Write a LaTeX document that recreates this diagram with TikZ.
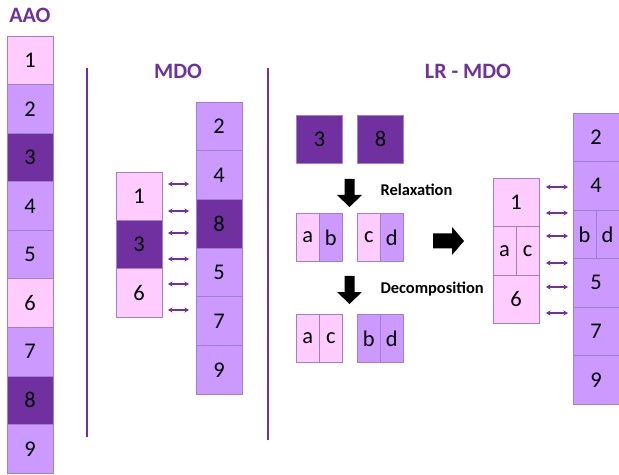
\documentclass[tikz,border=0pt]{standalone}
\usepackage{fontspec}
\setmainfont{Carlito}
\usetikzlibrary{arrows.meta}
\definecolor{lightc}{HTML}{FFCCFF}
\definecolor{midc}{HTML}{CC99FF}
\definecolor{darkc}{HTML}{7030A0}
\definecolor{cellborder}{HTML}{9F7FCF}
\definecolor{titlec}{HTML}{7030A0}
\begin{document}
\begin{tikzpicture}[x=1bp,y=-1bp,
  cell/.style={draw=cellborder, line width=0.8bp, minimum width=46bp, minimum height=48.6bp,
    inner sep=0pt, outer sep=0pt, font=\fontsize{22.5}{26}\selectfont, anchor=north},
  half/.style={cell, minimum width=23bp},
  title/.style={font=\bfseries\fontsize{22}{26}\selectfont, text=titlec},
  note/.style={font=\bfseries\fontsize{16.5}{19}\selectfont, anchor=west},
  link/.style={draw=titlec, line width=1.2bp, {Stealth[length=4.5bp,width=5bp]}-{Stealth[length=4.5bp,width=5bp]}},
  sep/.style={draw=titlec, line width=1.4bp},
  downarrow/.pic={\fill[black] (-5,0) -- (5,0) -- (5,16) -- (12.5,16) -- (0,28) -- (-12.5,16) -- (-5,16) -- cycle;},
  rightarrow/.pic={\fill[black] (0,-7.5) -- (19,-7.5) -- (19,-14) -- (31,0) -- (19,14) -- (19,7.5) -- (0,7.5) -- cycle;}
]
\useasboundingbox[fill=white] (0,0) rectangle (619,475);

% ---------- AAO ----------
\node[title] (taao) at (30,15) {AAO};
\foreach \lab/\col [count=\i from 0] in {1/lightc,2/midc,3/darkc,4/midc,5/midc,6/lightc,7/midc,8/darkc,9/midc}
  \node[cell, fill=\col] (aao\lab) at (30,{36+48.56*\i}) {\lab};

% separators
\coordinate (s1t) at (87,68);  \coordinate (s1b) at (87,437);
\coordinate (s2t) at (268,68); \coordinate (s2b) at (268,440);
\draw[sep] (s1t) -- (s1b);
\draw[sep] (s2t) -- (s2b);

% ---------- MDO ----------
\node[title] (tmdo) at (178,71) {MDO};
\foreach \lab/\col [count=\i from 0] in {1/lightc,3/darkc,6/lightc}
  \node[cell, fill=\col] (ml\lab) at (139,{172+48.4*\i}) {\lab};
\foreach \lab/\col [count=\i from 0] in {2/midc,4/midc,8/darkc,5/midc,7/midc,9/midc}
  \node[cell, fill=\col] (mr\lab) at (219,{102+48.7*\i}) {\lab};
\foreach \y [count=\k] in {184,211,233,259,284,310}{
  \coordinate (ma\k) at (168,\y); \coordinate (mb\k) at (189,\y);
  \draw[link] (ma\k) -- (mb\k);
}

% ---------- LR - MDO ----------
\node[title] (tlr) at (468,71) {LR - MDO};

% original blocks
\node[cell, fill=darkc, minimum height=48bp] (b3) at (319.5,115) {3};
\node[cell, fill=darkc, minimum height=48bp] (b8) at (380.5,115) {8};

% relaxation
\pic at (349.5,179) {downarrow};
\node[note] (trelax) at (377,190) {Relaxation};
\node[half, fill=lightc] (ra) at (307.75,213) {a};
\node[half, fill=midc]   (rb) at (330.75,213) {b};
\node[half, fill=lightc] (rc) at (368.75,213) {c};
\node[half, fill=midc]   (rd) at (391.75,213) {d};

% decomposition
\pic at (349.5,276) {downarrow};
\node[note] (tdec) at (377,289) {Decomposition};
\node[half, fill=lightc] (da) at (307.75,314) {a};
\node[half, fill=lightc] (dc) at (330.75,314) {c};
\node[half, fill=midc]   (db) at (368.75,314) {b};
\node[half, fill=midc]   (dd) at (391.75,314) {d};

\pic at (433,241) {rightarrow};

% relaxed master/subproblem columns
\node[cell, fill=lightc] (ll1) at (516,178) {1};
\node[half, fill=lightc] (lla) at (504.5,226.6) {a};
\node[half, fill=lightc] (llc) at (527.5,226.6) {c};
\node[cell, fill=lightc] (ll6) at (516,275.2) {6};

\node[cell, fill=midc] (lr2) at (596,113) {2};
\node[cell, fill=midc] (lr4) at (596,161.5) {4};
\node[half, fill=midc] (lrb) at (584.5,210) {b};
\node[half, fill=midc] (lrd) at (607.5,210) {d};
\node[cell, fill=midc] (lr5) at (596,258.5) {5};
\node[cell, fill=midc] (lr7) at (596,307) {7};
\node[cell, fill=midc] (lr9) at (596,355.5) {9};

\foreach \y [count=\k] in {187,213,236,263,287,313}{
  \coordinate (la\k) at (546,\y); \coordinate (lb\k) at (568,\y);
  \draw[link] (la\k) -- (lb\k);
}
\end{tikzpicture}
\end{document}
